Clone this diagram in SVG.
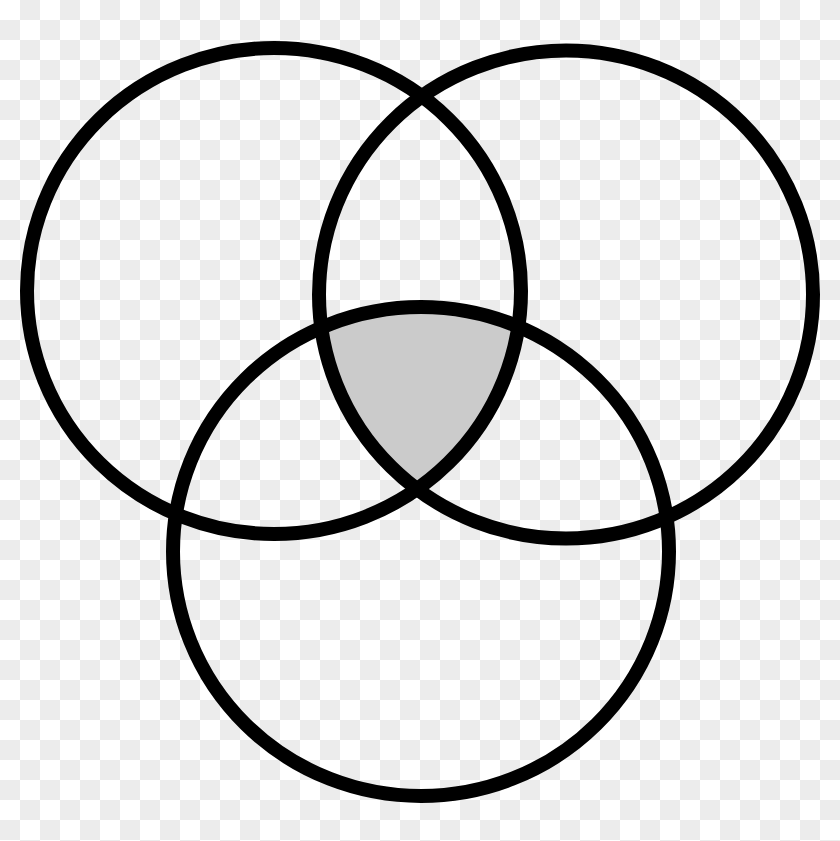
<svg xmlns="http://www.w3.org/2000/svg" width="840" height="841" viewBox="0 0 840 841">
  <style>
    .ring { fill: none; stroke: #000; stroke-width: 14; }
    .shade { fill: #cbcbcb; stroke: none; }
  </style>
  <defs>
    <pattern id="checker" x="0" y="0" width="40" height="40" patternUnits="userSpaceOnUse">
      <rect width="40" height="40" fill="#ffffff"/>
      <rect x="20" y="0" width="20" height="20" fill="#ececec"/>
      <rect x="0" y="20" width="20" height="20" fill="#ececec"/>
    </pattern>
    <clipPath id="clipA"><ellipse cx="274" cy="291" rx="247" ry="243"/></clipPath>
    <clipPath id="clipB"><ellipse cx="566" cy="294.5" rx="247" ry="244"/></clipPath>
  </defs>
  <rect width="840" height="841" fill="url(#checker)"/>
  <g id="intersection" clip-path="url(#clipA)">
    <g clip-path="url(#clipB)">
      <ellipse class="shade" cx="421" cy="551.5" rx="248" ry="244.5"/>
    </g>
  </g>
  <g id="circle-a"><ellipse class="ring" cx="274" cy="291" rx="247" ry="243"/></g>
  <g id="circle-b"><ellipse class="ring" cx="566" cy="294.5" rx="247" ry="244"/></g>
  <g id="circle-c"><ellipse class="ring" cx="421" cy="551.5" rx="248" ry="244.5"/></g>
  <g id="connectors"/>
</svg>
